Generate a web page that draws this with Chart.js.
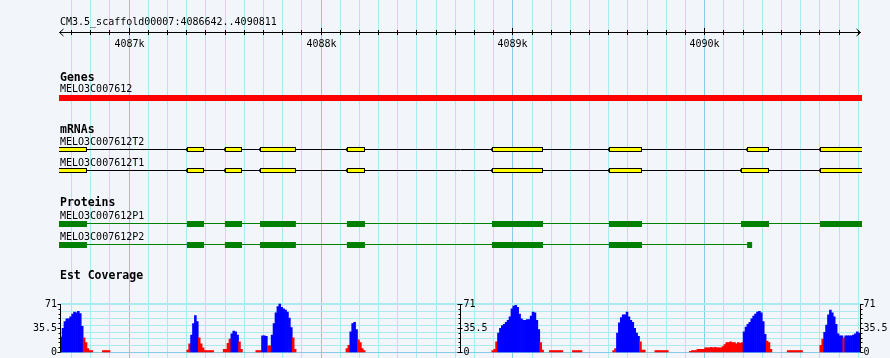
<!DOCTYPE html>
<html><head><meta charset="utf-8">
<script src="https://cdn.jsdelivr.net/npm/chart.js@4/dist/chart.umd.min.js"></script>
<style>html,body{margin:0;padding:0;background:#f2f5fa;}canvas{display:block}</style>
</head><body>
<canvas id="c" width="890" height="358"></canvas>
<script>
// ================= DATA =================
const refName = 'CM3.5_scaffold00007';
const viewStart = 4086642;
const viewEnd = 4090811;
const rulerMinorStep = 100;
const rulerMajorStep = 1000;

const trackTitles = ['Genes', 'mRNAs', 'Proteins', 'Est Coverage'];

const geneName = 'MELO3C007612';
const geneSpan = [4086500, 4091000];

const mrnaNames = ['MELO3C007612T2', 'MELO3C007612T1'];
const mrnaT2Span = [4086500, 4091000];
const mrnaT1Span = [4086500, 4091000];
const mrnaT2Exons = [[4086500,4086780],[4087301,4087390],[4087499,4087588],[4087682,4087869],[4088135,4088229],[4088891,4089157],[4089501,4089673],[4090221,4090335],[4090601,4091000]];
const mrnaT1Exons = [[4086500,4086780],[4087301,4087390],[4087499,4087588],[4087682,4087869],[4088135,4088229],[4088891,4089157],[4089501,4089673],[4090189,4090335],[4090601,4091000]];

const proteinNames = ['MELO3C007612P1', 'MELO3C007612P2'];
const proteinP1Span = [4086500, 4091000];
const proteinP2Span = [4086500, 4090247];
const proteinP1Cds = [[4086500,4086780],[4087301,4087390],[4087499,4087588],[4087682,4087869],[4088135,4088229],[4088891,4089157],[4089501,4089673],[4090189,4090335],[4090601,4091000]];
const proteinP2Cds = [[4086500,4086780],[4087301,4087390],[4087499,4087588],[4087682,4087869],[4088135,4088229],[4088891,4089157],[4089501,4089673],[4090221,4090247]];

// EST coverage (10 bp bins), runs of consecutive bins
const covMax = 71;
const covTickLabels = ['0', '35.5', '71'];
const covTickValues = [0, 35.5, 71];
const covGridValues = [10, 20, 30, 40, 50, 60];
const covPivot = 21.5;
const covBinSize = 10;
const covRunStarts = [4086640, 4086860, 4087300, 4087490, 4087660, 4088130, 4088890, 4089190, 4089310, 4089520, 4089740, 4089920, 4090430, 4090600];
const covRunA  = [22,35,45,49,49,52,56,59,58,60,57,38,21,14,5,2,2];
const covRunA2 = [2,2,2,2];
const covRunB  = [3,12,25,42,54,45,21,12,6,2,2,2,2,2];
const covRunC  = [4,4,13,19,27,31,30,25,15,4];
const covRunD  = [2,2,2,24,24,23,9,9,25,42,58,67,71,66,64,62,59,50,36,21,4];
const covRunE  = [5,10,30,42,44,33,18,14,5,2];
const covRunF  = [2,4,15,28,35,39,41,44,47,52,64,68,69,66,56,49,47,47,48,48,53,59,58,47,33,14,3];
const covRunF2 = [2,2,2,2,2,2,2];
const covRunF3 = [2,2,2,2,2];
const covRunG  = [2,5,28,43,51,55,55,59,52,47,44,35,28,23,15,3,3];
const covRunG2 = [2,2,2,2,2,2,2];
const covRunH  = [1,2,2,2,4,4,4,4,6,6,6,7,6,7,6,6,6,8,11,14,14,15,14,14,12,14,13,14,30,37,41,44,49,53,56,59,60,58,45,26,16,14,4];
const covRunH2 = [2,2,2,2,2,2,2,2];
const covRunI  = [10,19,29,40,55,62,58,52,41,27,24,24,21,24,24,24,24,25,27,30,28];
const covRuns = [covRunA, covRunA2, covRunB, covRunC, covRunD, covRunE, covRunF, covRunF2, covRunF3, covRunG, covRunG2, covRunH, covRunH2, covRunI];

// ================= LAYOUT / STYLE =================
const W = 890, H = 358;
const PLOT_L = 60.5, PLOT_R = 860.5;
const X_MIN = viewStart, X_MAX = viewEnd + 1;
const BG = '#f2f5fa', GRID_MINOR = '#aaeaf0', GRID_MAJOR = '#86cbe8';
const FONT = '10px "DejaVu Sans Mono", monospace';
const FONT_B = 'bold 11.5px "DejaVu Sans Mono", monospace';
const ROW = { gene: 98, t2: 149.5, t1: 170.5, p1Line: 223.5, p1Box: 224, p2Line: 244.5, p2Box: 245 };
const COV_TOP = 304, COV_BOTTOM = 352;
const covRange = covMax * H / (COV_BOTTOM - COV_TOP);
const covScaleMin = -(H - COV_BOTTOM) * covRange / H;
const covScaleMax = covScaleMin + covRange;
const CLIP = { left: 1.5, right: 1.5, top: 0, bottom: 0 };

// build coverage points
const covPoints = [];
covRuns.forEach((run, i) => {
  run.forEach((v, j) => {
    if (v > 0) covPoints.push({ x: covRunStarts[i] + j * covBinSize + covBinSize / 2, y: v });
  });
});

function spanLine(span, row, color) {
  return { type: 'line', xAxisID: 'x', yAxisID: 'yPix', order: 2,
    data: [{ x: span[0], y: row }, { x: span[1], y: row }],
    borderColor: color, borderWidth: 1, pointRadius: 0, tension: 0, clip: CLIP };
}
function boxes(list, row, fill, border, thick, tip) {
  return { type: 'bar', indexAxis: 'y', xAxisID: 'x', yAxisID: 'yPix', order: 1,
    data: list.map(e => ({ x: e, y: row })),
    backgroundColor: fill, borderColor: border || fill, borderWidth: border ? 1 : 0,
    borderSkipped: false, barThickness: thick, grouped: false, inflateAmount: 0, clip: CLIP,
    exonTip: !!tip };
}

const datasets = [
  boxes([geneSpan], ROW.gene, '#ff0000', null, 6),
  spanLine(mrnaT2Span, ROW.t2, '#000000'),
  boxes(mrnaT2Exons, ROW.t2, '#ffff00', '#000000', 5, true),
  spanLine(mrnaT1Span, ROW.t1, '#000000'),
  boxes(mrnaT1Exons, ROW.t1, '#ffff00', '#000000', 5, true),
  spanLine(proteinP1Span, ROW.p1Line, '#008000'),
  boxes(proteinP1Cds, ROW.p1Box, '#008000', null, 6),
  spanLine(proteinP2Span, ROW.p2Line, '#008000'),
  boxes(proteinP2Cds, ROW.p2Box, '#008000', null, 6),
  { type: 'bar', xAxisID: 'x', yAxisID: 'yCov', order: 1, data: covPoints,
    backgroundColor: c => (c.raw && c.raw.y > covPivot) ? '#0000ff' : '#ff0000',
    borderWidth: 0, barThickness: covBinSize * (PLOT_R - PLOT_L) / (X_MAX - X_MIN),
    grouped: false, clip: 0 }
];

function line(ctx, x1, y1, x2, y2) { ctx.beginPath(); ctx.moveTo(x1, y1); ctx.lineTo(x2, y2); ctx.stroke(); }

const browserPlugin = {
  id: 'browser',
  beforeDraw(chart) {
    const ctx = chart.ctx, xs = chart.scales.x, yc = chart.scales.yCov;
    ctx.save();
    ctx.fillStyle = BG; ctx.fillRect(0, 0, W, H);
    ctx.lineWidth = 1;
    for (let v = Math.ceil(viewStart / rulerMinorStep) * rulerMinorStep; v <= viewEnd; v += rulerMinorStep) {
      const px = Math.floor(xs.getPixelForValue(v)) + 0.5;
      ctx.strokeStyle = v % rulerMajorStep === 0 ? GRID_MAJOR : GRID_MINOR;
      line(ctx, px, 0, px, H);
    }
    ctx.strokeStyle = GRID_MINOR;
    covGridValues.forEach(v => {
      const py = Math.round(yc.getPixelForValue(v)) + 0.5;
      line(ctx, PLOT_L, py, PLOT_R, py);
    });
    const top = Math.round(yc.getPixelForValue(covMax));
    ctx.fillStyle = GRID_MINOR; ctx.fillRect(PLOT_L, top - 1, PLOT_R - PLOT_L, 2);
    const base = Math.round(yc.getPixelForValue(0));
    ctx.fillStyle = GRID_MAJOR; ctx.fillRect(PLOT_L, base, PLOT_R - PLOT_L, 1);
    ctx.restore();
  },
  afterDatasetsDraw(chart) {
    const ctx = chart.ctx, xs = chart.scales.x, yc = chart.scales.yCov;
    ctx.save();
    ctx.fillStyle = '#000'; ctx.strokeStyle = '#000'; ctx.lineWidth = 1;
    // exon strand tips (left-pointing) on transcript boxes
    chart.data.datasets.forEach((ds, i) => {
      if (!ds.exonTip) return;
      chart.getDatasetMeta(i).data.forEach(el => {
        const left = Math.min(el.base, el.x);
        if (left < chart.chartArea.left) return;
        const yMid = el.y;
        ctx.fillStyle = '#000';
        ctx.beginPath();
        ctx.moveTo(left - 1.5, yMid);
        ctx.lineTo(left + 0.5, yMid - 2.5);
        ctx.lineTo(left + 0.5, yMid + 2.5);
        ctx.closePath();
        ctx.fill();
      });
    });
    // ruler
    ctx.fillStyle = '#000';
    const ry = 32.5;
    const rl = Math.floor(xs.getPixelForValue(viewStart)) - 0.5;
    const rr = Math.floor(xs.getPixelForValue(X_MAX)) + 0.5;
    line(ctx, rl, ry, rr, ry);
    line(ctx, rl, ry, rl + 4, ry - 3.5); line(ctx, rl, ry, rl + 4, ry + 3.5);
    line(ctx, rr, ry, rr - 4, ry - 3.5); line(ctx, rr, ry, rr - 4, ry + 3.5);
    ctx.font = FONT; ctx.textAlign = 'center'; ctx.textBaseline = 'alphabetic';
    for (let v = Math.ceil(viewStart / rulerMinorStep) * rulerMinorStep; v <= viewEnd; v += rulerMinorStep) {
      const px = Math.floor(xs.getPixelForValue(v)) + 0.5;
      const major = v % rulerMajorStep === 0;
      line(ctx, px, major ? 28 : 30, px, 35);
      if (major) ctx.fillText((v / 1000) + 'k', px, 47);
    }
    // texts
    ctx.textAlign = 'left';
    ctx.fillText(refName + ':' + viewStart + '..' + viewEnd, 60, 25);
    ctx.fillText(geneName, 60, 92);
    ctx.fillText(mrnaNames[0], 60, 145);
    ctx.fillText(mrnaNames[1], 60, 166);
    ctx.fillText(proteinNames[0], 60, 219);
    ctx.fillText(proteinNames[1], 60, 240);
    ctx.font = FONT_B;
    ctx.fillText(trackTitles[0], 60, 81);
    ctx.fillText(trackTitles[1], 60, 133);
    ctx.fillText(trackTitles[2], 60, 206);
    ctx.fillText(trackTitles[3], 60, 279);
    // coverage axes
    ctx.font = FONT;
    const axes = [
      { x: Math.floor(PLOT_L) + 0.5, side: -1 },
      { x: Math.floor((PLOT_L + PLOT_R) / 2) + 0.5, side: 0 },
      { x: Math.floor(PLOT_R) + 0.5, side: 1 }
    ];
    const yTop = yc.getPixelForValue(covMax), yBot = yc.getPixelForValue(0);
    axes.forEach(a => {
      line(ctx, a.x, yTop, a.x, yBot + 0.5);
      for (let i = 0; i <= 10; i++) {
        const py = Math.round(yc.getPixelForValue(covMax * i / 10)) + 0.5;
        const major = i % 5 === 0;
        if (a.side === -1) line(ctx, a.x - (major ? 3 : 2), py, a.x, py);
        else if (a.side === 0) line(ctx, a.x - (major ? 3 : 2), py, a.x + (major ? 2 : 0), py);
        else line(ctx, a.x, py, a.x + (major ? 3 : 2), py);
      }
      covTickValues.forEach((v, i) => {
        const py = Math.round(yc.getPixelForValue(v)) + 3;
        if (a.side === -1) { ctx.textAlign = 'right'; ctx.fillText(covTickLabels[i], a.x - 3.5, py); }
        else { ctx.textAlign = 'left'; ctx.fillText(covTickLabels[i], a.x + 3, py); }
      });
    });
    ctx.restore();
  }
};

new Chart(document.getElementById('c'), {
  type: 'bar',
  data: { datasets },
  options: {
    responsive: false, animation: false, events: [],
    layout: { padding: { left: PLOT_L, right: W - PLOT_R, top: 0, bottom: 0 } },
    plugins: { legend: { display: false }, tooltip: { enabled: false }, title: { display: false } },
    scales: {
      x: { type: 'linear', min: X_MIN, max: X_MAX, display: false, offset: false },
      yPix: { type: 'linear', min: 0, max: H, reverse: true, display: false, offset: false },
      yCov: { type: 'linear', min: covScaleMin, max: covScaleMax, display: false, offset: false }
    }
  },
  plugins: [browserPlugin]
});
</script>
</body></html>
